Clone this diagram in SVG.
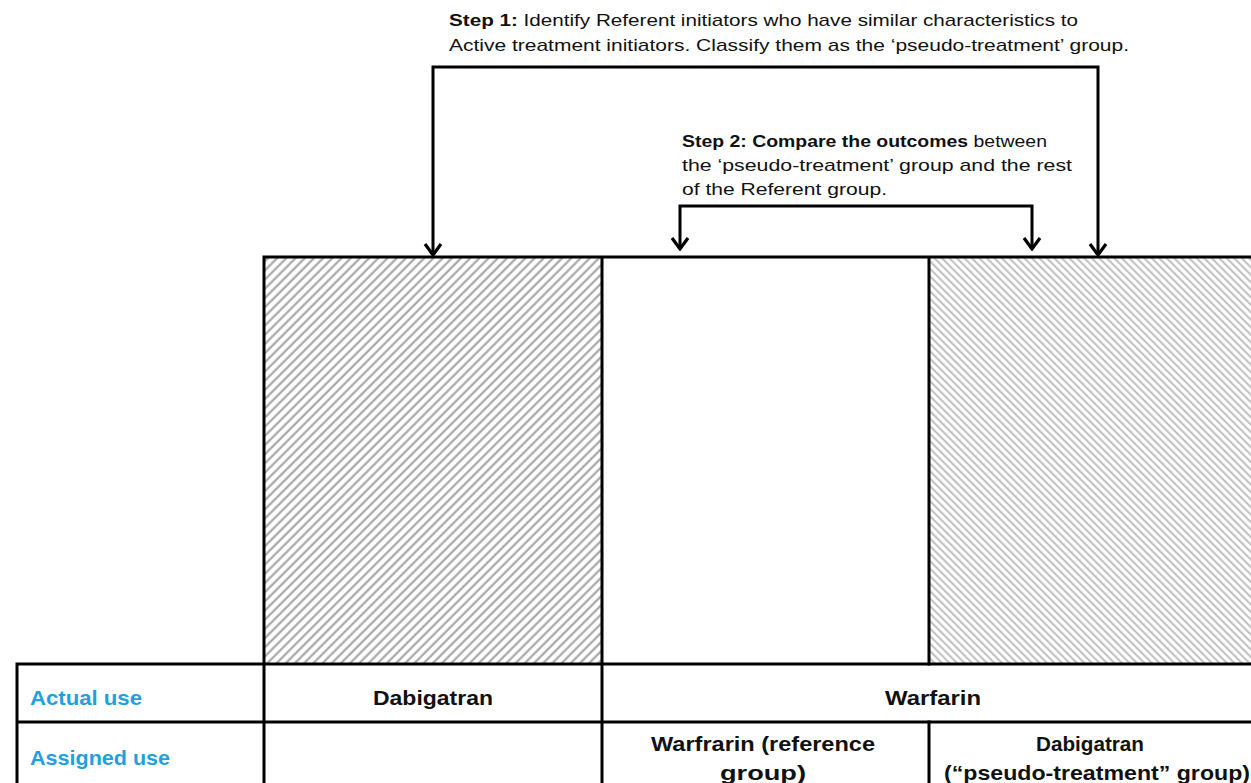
<svg xmlns="http://www.w3.org/2000/svg" width="1251" height="783" viewBox="0 0 1251 783">
<style>
.ln{stroke:#000;stroke-width:3;fill:none;stroke-linecap:square}
.cn{stroke:#000;stroke-width:3;fill:none}
.note{font-family:"Liberation Sans",Arial,sans-serif;font-size:17px;fill:#111}
.b{font-weight:bold}
.cell{font-family:"Liberation Sans",Arial,sans-serif;font-size:21px;font-weight:bold;fill:#111}
.lab{font-family:"Liberation Sans",Arial,sans-serif;font-size:21px;font-weight:bold;fill:#1fa0df}
</style>
<defs>
<pattern id="hatchA" patternUnits="userSpaceOnUse" width="6.5" height="10" patternTransform="rotate(45)">
<line x1="1.5" y1="0" x2="1.5" y2="10" stroke="#a3a3a3" stroke-width="2.1"/>
</pattern>
<pattern id="hatchB" patternUnits="userSpaceOnUse" width="5.3" height="10" patternTransform="rotate(-45)">
<line x1="1.2" y1="0" x2="1.2" y2="10" stroke="#b8b8b8" stroke-width="1.8"/>
</pattern>
<marker id="arr" markerUnits="userSpaceOnUse" viewBox="-14 -10 16 20" refX="0" refY="0" markerWidth="16" markerHeight="20" orient="auto-start-reverse">
<path d="M-11,-8 L0,0 L-11,8" fill="none" stroke="#000" stroke-width="3.2"/>
</marker>
</defs>
<rect width="1251" height="783" fill="#fff"/>

<g id="box-dabigatran">
<rect x="264" y="257" width="338" height="407" fill="url(#hatchA)"/>
</g>
<g id="box-warfarin-ref">
<rect x="602" y="257" width="327" height="407" fill="#fff"/>
</g>
<g id="box-pseudo">
<rect x="929" y="257" width="330" height="407" fill="url(#hatchB)"/>
</g>
<g id="box-lines">
<path class="ln" d="M264,257 H1255 M264,257 V783 M602,257 V783 M929,257 V664 M929,722 V783"/>
<path class="ln" d="M17,664 H1255 M17,722 H1255 M17,664 V783"/>
</g>

<g id="connectors">
<path class="cn" d="M433,255 V67 H1098 V255" marker-start="url(#arr)" marker-end="url(#arr)"/>
<path class="cn" d="M680,249 V206 H1032 V249" marker-start="url(#arr)" marker-end="url(#arr)"/>
</g>

<g id="step1">
<text class="note" x="449" y="26" textLength="629" lengthAdjust="spacingAndGlyphs"><tspan class="b">Step 1:</tspan> Identify Referent initiators who have similar characteristics to</text>
<text class="note" x="449" y="51" textLength="680" lengthAdjust="spacingAndGlyphs">Active treatment initiators. Classify them as the ‘pseudo-treatment’ group.</text>
</g>
<g id="step2">
<text class="note" x="682" y="147" textLength="365" lengthAdjust="spacingAndGlyphs"><tspan class="b">Step 2: Compare the outcomes</tspan> between</text>
<text class="note" x="682" y="171" textLength="390" lengthAdjust="spacingAndGlyphs">the ‘pseudo-treatment’ group and the rest</text>
<text class="note" x="682" y="195" textLength="205" lengthAdjust="spacingAndGlyphs">of the Referent group.</text>
</g>

<g id="row-actual">
<text class="lab" x="30" y="705" textLength="112" lengthAdjust="spacingAndGlyphs">Actual use</text>
<text class="cell" x="433" y="705" text-anchor="middle" textLength="120" lengthAdjust="spacingAndGlyphs">Dabigatran</text>
<text class="cell" x="933" y="705" text-anchor="middle" textLength="96" lengthAdjust="spacingAndGlyphs">Warfarin</text>
</g>
<g id="row-assigned">
<text class="lab" x="30" y="765" textLength="140" lengthAdjust="spacingAndGlyphs">Assigned use</text>
<text class="cell" x="763" y="751" text-anchor="middle" textLength="224" lengthAdjust="spacingAndGlyphs">Warfrarin (reference</text>
<text class="cell" x="763" y="780" text-anchor="middle" textLength="86" lengthAdjust="spacingAndGlyphs">group)</text>
<text class="cell" x="1090" y="751" text-anchor="middle" textLength="108" lengthAdjust="spacingAndGlyphs">Dabigatran</text>
<text class="cell" x="1097" y="780" text-anchor="middle" textLength="306" lengthAdjust="spacingAndGlyphs">(“pseudo-treatment” group)</text>
</g>
</svg>
